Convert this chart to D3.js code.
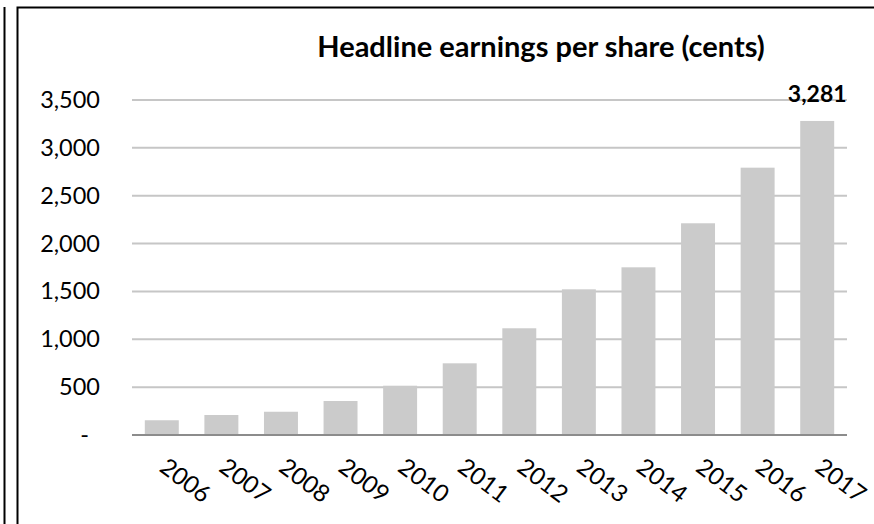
<!DOCTYPE html>
<html>
<head>
<meta charset="utf-8">
<script src="https://cdn.jsdelivr.net/npm/d3@7/dist/d3.min.js"></script>
<style>
  html, body { margin: 0; padding: 0; background: #fff; }
  svg { display: block; }
  text { font-family: Lato, "Open Sans", sans-serif; fill: #000; }
</style>
</head>
<body>
<svg id="chart" width="874" height="524"></svg>
<script>
// Headline earnings per share, in cents
const years = ["2006","2007","2008","2009","2010","2011","2012","2013","2014","2015","2016","2017"];
const heps = [154, 209, 243, 355, 515, 749, 1115, 1522, 1752, 2212, 2793, 3281];
const yTicks = [0, 500, 1000, 1500, 2000, 2500, 3000, 3500];
const chartTitle = "Headline earnings per share (cents)";
const labelledYear = "2017";

const svg = d3.select("#chart");
const W = 874, H = 524;
const plot = { left: 132, right: 847, top: 100, bottom: 435 };

// Frame lines of the panel
svg.append("line").attr("x1", 4.5).attr("x2", 4.5).attr("y1", 7).attr("y2", H)
  .attr("stroke", "#000").attr("stroke-width", 2);
svg.append("path")
  .attr("d", `M17.5,${H} V7.5 H${W}`)
  .attr("fill", "none").attr("stroke", "#000").attr("stroke-width", 2);

const x = d3.scaleBand().domain(years)
  .range([plot.left, plot.right])
  .paddingInner(0.43).paddingOuter(0.215);

const y = d3.scaleLinear().domain([0, 3500]).range([plot.bottom, plot.top]);

// Horizontal gridlines
svg.append("g").selectAll("line")
  .data(yTicks.filter(d => d > 0))
  .join("line")
  .attr("x1", plot.left).attr("x2", plot.right)
  .attr("y1", d => y(d)).attr("y2", d => y(d))
  .attr("stroke", "#c6c6c6").attr("stroke-width", 2);

// Y axis labels
const yAxis = d3.axisLeft(y).tickValues(yTicks)
  .tickSize(0).tickPadding(0)
  .tickFormat(d => d === 0 ? "-" : d3.format(",")(d));
const yg = svg.append("g").attr("transform", `translate(100,0)`).call(yAxis);
yg.select(".domain").remove();
yg.selectAll("text")
  .attr("font-family", "Lato, sans-serif")
  .attr("font-size", 23.5).attr("fill", "#000")
  .attr("x", d => d === 0 ? -11 : 0);

// Bars
svg.append("g").selectAll("rect")
  .data(years.map((yr, i) => ({ yr, v: heps[i] })))
  .join("rect")
  .attr("x", d => x(d.yr))
  .attr("width", x.bandwidth())
  .attr("y", d => y(d.v))
  .attr("height", d => y(0) - y(d.v))
  .attr("fill", "#cbcbcb");

// Category axis line
svg.append("line")
  .attr("x1", plot.left).attr("x2", plot.right)
  .attr("y1", y(0)).attr("y2", y(0))
  .attr("stroke", "#8c8c8c").attr("stroke-width", 2);

// Rotated year labels
svg.append("g").selectAll("text")
  .data(years)
  .join("text")
  .attr("transform", d => `translate(${x(d) + x.bandwidth() / 2 + 8},${455}) rotate(37)`)
  .attr("text-anchor", "start")
  .attr("dominant-baseline", "hanging")
  .attr("font-size", 24)
  .text(d => d);

// Value label on the latest year
const li = years.indexOf(labelledYear);
svg.append("text")
  .attr("x", x(labelledYear) + x.bandwidth() / 2)
  .attr("y", y(heps[li]) - 19)
  .attr("text-anchor", "middle")
  .attr("font-size", 23).attr("font-weight", "bold")
  .text(d3.format(",")(heps[li]));

// Title
svg.append("text")
  .attr("x", 541).attr("y", 57)
  .attr("text-anchor", "middle")
  .attr("font-size", 29).attr("font-weight", "bold")
  .text(chartTitle);
</script>
</body>
</html>
